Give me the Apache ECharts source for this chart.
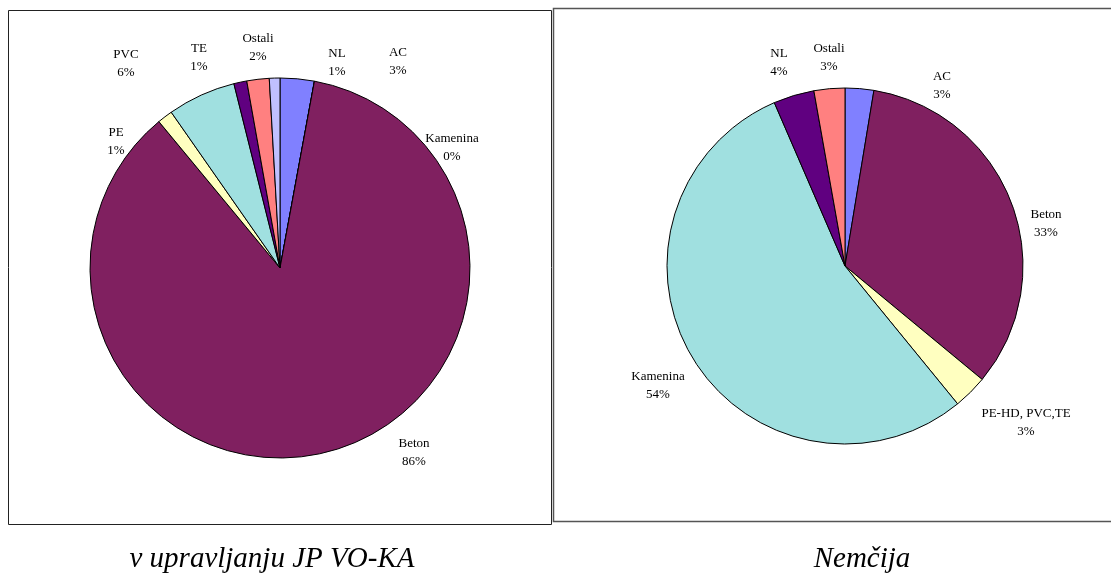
<!DOCTYPE html>
<html>
<head>
<meta charset="utf-8">
<script src="https://cdn.jsdelivr.net/npm/echarts@6/dist/echarts.min.js"></script>
<style>
html,body{margin:0;padding:0;background:#fff;}
#chart{width:1111px;height:577px;}
</style>
</head>
<body>
<div id="chart"></div>
<script>
// ---- data ----
const leftCategories = ['AC', 'Kamenina', 'Beton', 'PE', 'PVC', 'TE', 'Ostali', 'NL'];
const leftValues = [2.9, 0, 86.1, 1.3, 5.8, 1.1, 1.9, 0.9];
const rightCategories = ['AC', 'Beton', 'PE-HD, PVC,TE', 'Kamenina', 'NL', 'Ostali'];
const rightValues = [2.6, 33.4, 3.1, 54.4, 3.7, 2.8];
const captions = ['v upravljanju JP VO-KA', 'Nemčija'];

// ---- styles ----
const leftColors = ['#8080FF', '#A0E0E0', '#802060', '#FFFFC0', '#A0E0E0', '#600080', '#FF8080', '#C0C0FF'];
const rightColors = ['#8080FF', '#802060', '#FFFFC0', '#A0E0E0', '#600080', '#FF8080'];
const leftCenter = [280, 268], leftRadius = 190;
const rightCenter = [845, 266], rightRadius = 178;
// label block offsets from pie centre (placement of text, like Excel's manual layout)
const leftLabelOffsets = [[118, -206], [172, -120], [134, 185], [-164, -126], [-154, -204], [-81, -210], [-22, -220], [57, -205]];
const rightLabelOffsets = [[97, -180], [201, -42], [181, 157], [-187, 120], [-66, -203], [-16, -208]];

const labelFont = {fontFamily: '"Liberation Serif", "Times New Roman", serif', fontSize: 13, color: '#000', lineHeight: 18};
const captionFont = 'italic 29px "Liberation Serif", "Times New Roman", serif';

function makePie(cats, vals, colors, center, radius, offsets) {
  return {
    type: 'pie',
    center: center,
    radius: radius,
    startAngle: 90,
    clockwise: true,
    avoidLabelOverlap: false,
    animation: false,
    silent: true,
    minShowLabelAngle: -1,
    itemStyle: {borderColor: '#000', borderWidth: 1},
    label: Object.assign({
      show: true,
      position: 'outside',
      align: 'center',
      formatter: function (p) { return p.name + '\n' + Math.round(p.percent) + '%'; }
    }, labelFont),
    labelLine: {show: false},
    labelLayout: function (p) {
      const o = offsets[p.dataIndex];
      return {x: center[0] + o[0], y: center[1] + o[1], align: 'center', verticalAlign: 'middle'};
    },
    emphasis: {disabled: true},
    data: cats.map(function (c, i) {
      return {name: c, value: vals[i], itemStyle: {color: colors[i]}};
    })
  };
}

const chart = echarts.init(document.getElementById('chart'), null, {renderer: 'canvas'});
chart.setOption({
  backgroundColor: '#fff',
  animation: false,
  series: [
    makePie(leftCategories, leftValues, leftColors, leftCenter, leftRadius, leftLabelOffsets),
    makePie(rightCategories, rightValues, rightColors, rightCenter, rightRadius, rightLabelOffsets)
  ],
  graphic: [
    {type: 'rect', silent: true, z: -1, shape: {x: 8.5, y: 10.5, width: 543, height: 514},
      style: {fill: null, stroke: '#222', lineWidth: 1}},
    {type: 'rect', silent: true, z: -1, shape: {x: 553.5, y: 8.5, width: 570, height: 513},
      style: {fill: null, stroke: '#555', lineWidth: 1.5}},
    {type: 'text', silent: true, x: 272, y: 559,
      style: {text: captions[0], fill: '#000', font: captionFont, align: 'center', verticalAlign: 'middle'}},
    {type: 'text', silent: true, x: 862, y: 559,
      style: {text: captions[1], fill: '#000', font: captionFont, align: 'center', verticalAlign: 'middle'}}
  ]
});
</script>
</body>
</html>
